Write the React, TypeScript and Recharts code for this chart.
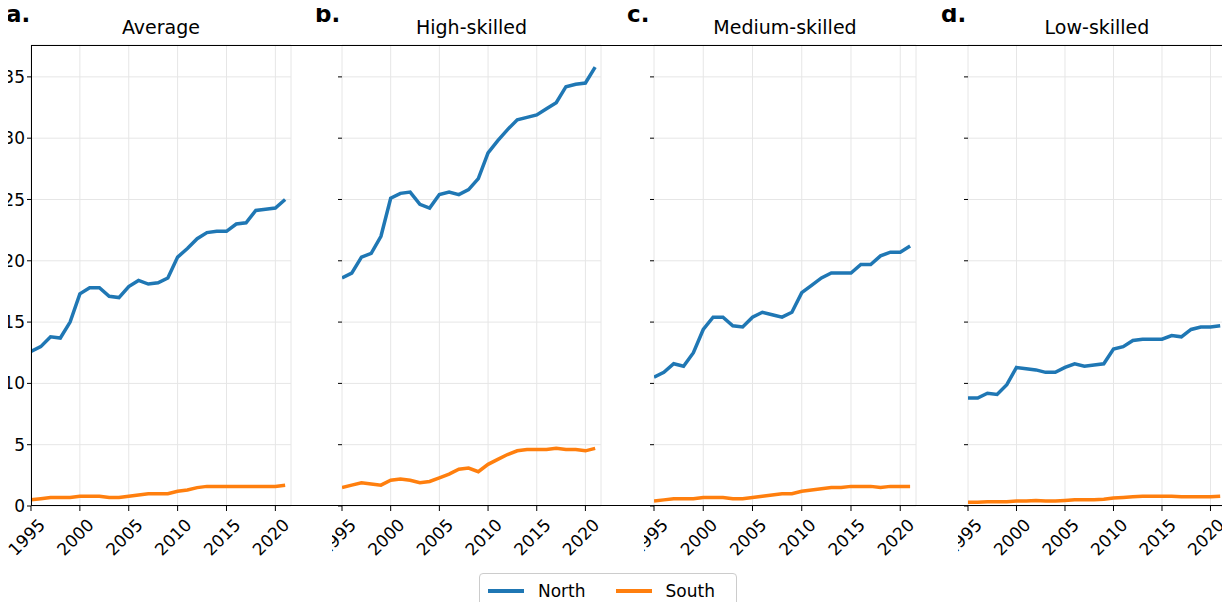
import { LineChart, Line, XAxis, YAxis, CartesianGrid } from "recharts";

const years = [
  1995, 1996, 1997, 1998, 1999, 2000, 2001, 2002, 2003, 2004, 2005, 2006, 2007, 2008,
  2009, 2010, 2011, 2012, 2013, 2014, 2015, 2016, 2017, 2018, 2019, 2020, 2021,
];
const xTicks = [1995, 2000, 2005, 2010, 2015, 2020];
const yTicks = [0, 5, 10, 15, 20, 25, 30, 35];

const avgNorth = [12.6, 13.0, 13.8, 13.7, 15.0, 17.3, 17.8, 17.8, 17.1, 17.0, 17.9, 18.4, 18.1, 18.2, 18.6, 20.3, 21.0, 21.8, 22.3, 22.4, 22.4, 23.0, 23.1, 24.1, 24.2, 24.3, 25.0];
const avgSouth = [0.5, 0.6, 0.7, 0.7, 0.7, 0.8, 0.8, 0.8, 0.7, 0.7, 0.8, 0.9, 1.0, 1.0, 1.0, 1.2, 1.3, 1.5, 1.6, 1.6, 1.6, 1.6, 1.6, 1.6, 1.6, 1.6, 1.7];
const highNorth = [18.6, 19.0, 20.3, 20.6, 22.0, 25.1, 25.5, 25.6, 24.6, 24.3, 25.4, 25.6, 25.4, 25.8, 26.7, 28.8, 29.8, 30.7, 31.5, 31.7, 31.9, 32.4, 32.9, 34.2, 34.4, 34.5, 35.8];
const highSouth = [1.5, 1.7, 1.9, 1.8, 1.7, 2.1, 2.2, 2.1, 1.9, 2.0, 2.3, 2.6, 3.0, 3.1, 2.8, 3.4, 3.8, 4.2, 4.5, 4.6, 4.6, 4.6, 4.7, 4.6, 4.6, 4.5, 4.7];
const medNorth = [10.5, 10.9, 11.6, 11.4, 12.5, 14.4, 15.4, 15.4, 14.7, 14.6, 15.4, 15.8, 15.6, 15.4, 15.8, 17.4, 18.0, 18.6, 19.0, 19.0, 19.0, 19.7, 19.7, 20.4, 20.7, 20.7, 21.2];
const medSouth = [0.4, 0.5, 0.6, 0.6, 0.6, 0.7, 0.7, 0.7, 0.6, 0.6, 0.7, 0.8, 0.9, 1.0, 1.0, 1.2, 1.3, 1.4, 1.5, 1.5, 1.6, 1.6, 1.6, 1.5, 1.6, 1.6, 1.6];
const lowNorth = [8.8, 8.8, 9.2, 9.1, 9.9, 11.3, 11.2, 11.1, 10.9, 10.9, 11.3, 11.6, 11.4, 11.5, 11.6, 12.8, 13.0, 13.5, 13.6, 13.6, 13.6, 13.9, 13.8, 14.4, 14.6, 14.6, 14.7];
const lowSouth = [0.3, 0.3, 0.35, 0.35, 0.35, 0.4, 0.4, 0.45, 0.4, 0.4, 0.45, 0.5, 0.5, 0.5, 0.55, 0.65, 0.7, 0.75, 0.8, 0.8, 0.8, 0.8, 0.75, 0.75, 0.75, 0.75, 0.8];

const NORTH = "#1f77b4";
const SOUTH = "#ff7f0e";
const FONT = "DejaVu Sans, sans-serif";

const panels = [
  { label: "a.", title: "Average", north: avgNorth, south: avgSouth, left: 0, yw: 31, plot: 260, first: true },
  { label: "b.", title: "High-skilled", north: highNorth, south: highSouth, left: 332, yw: 10, plot: 259, first: false },
  { label: "c.", title: "Medium-skilled", north: medNorth, south: medSouth, left: 644, yw: 10, plot: 262, first: false },
  { label: "d.", title: "Low-skilled", north: lowNorth, south: lowSouth, left: 958, yw: 10, plot: 258, first: false },
];

const RotTick = (props: any) => {
  const { x, y, payload } = props;
  return (
    <text
      x={x + 6}
      y={y + 4}
      textAnchor="end"
      transform={`rotate(-45 ${x + 6} ${y + 4})`}
      fontSize={17}
      fontFamily={FONT}
      fill="#000"
      dominantBaseline="hanging"
    >
      {payload.value}
    </text>
  );
};

function Panel(p: (typeof panels)[number]) {
  const data = years.map((year, i) => ({ year, north: p.north[i], south: p.south[i] }));
  const width = p.yw + p.plot + 5;
  return (
    <div style={{ position: "absolute", left: p.left, top: 35 }}>
      <LineChart width={width} height={531} data={data} margin={{ top: 10, right: 5, left: 0, bottom: 0 }}>
        <CartesianGrid stroke="#e6e6e6" strokeWidth={1} />
        <XAxis
          dataKey="year"
          type="number"
          domain={[1995, 2021.6]}
          ticks={xTicks}
          interval={0}
          allowDataOverflow
          height={60}
          axisLine={false}
          tickLine={{ stroke: "#000" }}
          tickSize={5}
          tick={<RotTick />}
        />
        <YAxis
          type="number"
          domain={[0, 37.6]}
          ticks={yTicks}
          interval={0}
          allowDataOverflow
          width={p.yw}
          axisLine={false}
          tickLine={{ stroke: "#000" }}
          tickSize={4}
          tick={{ fontSize: 17, fontFamily: FONT, fill: "#000" }}
          tickFormatter={(v: number) => (p.first ? String(v) : "")}
        />
        <Line dataKey="north" stroke={NORTH} strokeWidth={3.5} dot={false} isAnimationActive={false} />
        <Line dataKey="south" stroke={SOUTH} strokeWidth={3.5} dot={false} isAnimationActive={false} />
      </LineChart>
      <div
        style={{
          position: "absolute",
          left: p.yw,
          width: p.plot,
          top: -19,
          textAlign: "center",
          fontFamily: FONT,
          fontSize: 19,
        }}
      >
        {p.title}
      </div>
    </div>
  );
}

export default function App() {
  return (
    <div style={{ position: "relative", width: 1230, height: 610, margin: -8, background: "#fff", fontFamily: FONT }}>
      {panels.map((p) => (
        <Panel key={p.label} {...p} />
      ))}
      {panels.map((p) => (
        <div
          key={p.label + "l"}
          style={{ position: "absolute", left: p.first ? 6 : p.left - 17, top: 1, fontSize: 23, fontWeight: "bold", fontFamily: FONT }}
        >
          {p.label}
        </div>
      ))}
      <div
        style={{
          position: "absolute",
          left: 31,
          top: 45,
          width: 1195,
          height: 461,
          border: "1.5px solid #000",
          boxSizing: "border-box",
          pointerEvents: "none",
        }}
      />
      <div
        style={{
          position: "absolute",
          left: 479,
          top: 573,
          width: 258,
          height: 36,
          border: "1px solid #ccc",
          borderRadius: 4,
          boxSizing: "border-box",
          display: "flex",
          alignItems: "center",
          fontSize: 17,
          fontFamily: FONT,
        }}
      >
        <div style={{ width: 36, height: 4, background: NORTH, marginLeft: 8 }} />
        <span style={{ marginLeft: 14 }}>North</span>
        <div style={{ width: 36, height: 4, background: SOUTH, marginLeft: 30 }} />
        <span style={{ marginLeft: 14 }}>South</span>
      </div>
    </div>
  );
}
